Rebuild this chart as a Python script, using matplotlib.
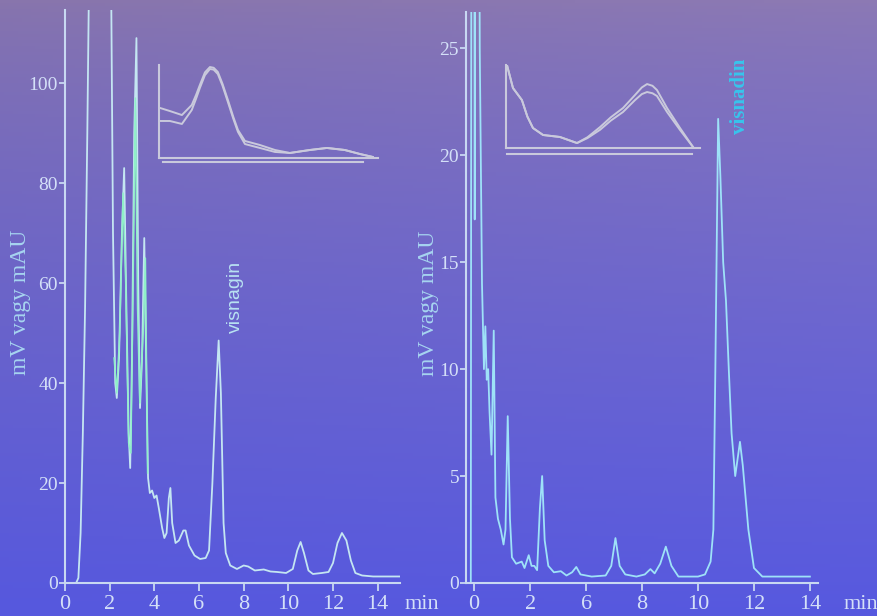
import numpy as np
import matplotlib
matplotlib.use("Agg")
import matplotlib.pyplot as plt

# --- bal oldali kromatogram (visnagin) ---
left_t = [0, 0.5, 0.6, 0.7, 0.8, 0.9, 1.0, 1.1, 1.3, 1.9, 2.05, 2.15, 2.25, 2.32, 2.42,
          2.55, 2.65, 2.75, 2.85, 2.92, 3.0, 3.1, 3.2, 3.28, 3.36, 3.45, 3.55, 3.65,
          3.72, 3.8, 3.9, 4.0, 4.1, 4.2, 4.35, 4.45, 4.55, 4.65, 4.72, 4.8, 4.95, 5.1,
          5.3, 5.4, 5.55, 5.8, 6.05, 6.3, 6.45, 6.6, 6.75, 6.88, 6.98, 7.1, 7.2, 7.4,
          7.7, 8.0, 8.2, 8.5, 8.9, 9.2, 9.5, 9.9, 10.2, 10.4, 10.55, 10.7, 10.9, 11.1,
          11.5, 11.8, 12.0, 12.2, 12.4, 12.6, 12.8, 13.0, 13.3, 13.8, 14.5, 15.0]
left_v = [0, 0, 1, 10, 30, 55, 90, 130, 300, 300, 130, 70, 40, 37, 45,
          70, 83, 55, 30, 23, 45, 90, 109, 60, 35, 45, 69, 40,
          21, 18, 18.5, 17, 17.5, 15, 11, 9, 10, 17, 19, 12, 8, 8.5,
          10.5, 10.5, 7.5, 5.5, 4.8, 5, 6.5, 20, 37, 48.5, 38, 12, 6, 3.5,
          2.8, 3.5, 3.3, 2.5, 2.7, 2.3, 2.2, 2.0, 2.8, 6.5, 8.2, 6, 2.5, 1.8,
          2.0, 2.2, 4, 8, 10, 8.5, 4.5, 2, 1.5, 1.3, 1.3, 1.3]
# masodik (zold) jel a korai szakaszon
left_t2 = [2.2, 2.32, 2.45, 2.6, 2.72, 2.85, 2.95, 3.05, 3.15, 3.25, 3.35, 3.5, 3.6, 3.7]
left_v2 = [45, 38, 50, 78, 60, 28, 26, 60, 97, 55, 36, 50, 65, 22]
left_xticks = [0, 2, 4, 6, 8, 10, 12, 14]
left_yticks = [0, 20, 40, 60, 80, 100]

# --- jobb oldali kromatogram (visnadin) ---
right_t = [-0.12, -0.08, -0.02, 0.02, 0.07, 0.12, 0.2, 0.28, 0.35, 0.4, 0.45, 0.5, 0.55,
           0.62, 0.7, 0.76, 0.85, 0.95, 1.05, 1.12, 1.2, 1.28, 1.35, 1.5, 1.7, 1.8,
           1.95, 2.05, 2.15, 2.25, 2.35, 2.43, 2.52, 2.65, 2.85, 3.1, 3.3, 3.5, 3.65,
           3.8, 4.2, 4.7, 4.9, 5.05, 5.2, 5.4, 5.8, 6.1, 6.3, 6.45, 6.65, 6.85, 7.05,
           7.3, 7.6, 8.0, 8.25, 8.45, 8.55, 8.62, 8.72, 8.8, 8.9, 9.0, 9.1, 9.2, 9.33,
           9.5, 9.6, 9.8, 10.0, 10.3, 11.0, 12.0]
right_v = [0, 60, 60, 17, 60, 60, 25, 14, 10, 12, 9.5, 10, 8,
           6, 11.8, 4, 3, 2.5, 1.8, 2.5, 7.8, 3, 1.2, 0.9, 1.0, 0.7,
           1.3, 0.8, 0.8, 0.6, 3.5, 5.0, 2, 0.8, 0.5, 0.55, 0.35, 0.5, 0.75,
           0.4, 0.3, 0.35, 0.8, 2.1, 0.8, 0.4, 0.3, 0.4, 0.65, 0.45, 0.9, 1.7, 0.8,
           0.3, 0.3, 0.3, 0.4, 1.0, 2.5, 10, 21.7, 19, 15, 13.2, 10, 7, 5.0,
           6.6, 5.5, 2.5, 0.7, 0.3, 0.3, 0.3]
right_xtick_pos = [0, 2, 4, 6, 8, 10, 12]
right_xtick_lab = ["0", "2", "6", "8", "10", "12", "14"]
right_yticks = [0, 5, 10, 15, 20, 25]

# --- UV spektrumok (beillesztett abrak) ---
ins1_x = [0.5, 5, 10.5, 15, 17, 18.7, 21, 23.3, 25, 26.9, 29, 31.5, 34, 36.1, 39.3,
          46.1, 53, 59.8, 68.9, 76.7, 84.9, 91.8, 97.7]
ins1_a = [53.8, 50.5, 46.2, 57, 68, 78.5, 92, 97.8, 97, 92.5, 80, 62.4, 44, 30.1, 18.3,
          14, 8.6, 5.4, 8.6, 10.8, 8.6, 4.3, 1.1]
ins1_b = [39.8, 39.8, 36.6, 51.6, 64, 75.3, 89, 95.7, 95, 90.3, 78, 60.2, 42, 28, 15,
          10.8, 6.5, 5.4, 8.6, 10.8, 8.6, 4.3, 1.1]
ins2_x = [0.5, 3.6, 8.2, 11, 13.9, 19.1, 27.8, 36.6, 42, 48.5, 54, 60.3, 66.5, 70,
          72.7, 75.5, 77.8, 83, 89.7, 96.4]
ins2_a = [100, 72.3, 57.8, 38, 24.1, 15.7, 13.3, 6, 13, 25.3, 37, 48.2, 63.9, 73,
          77.1, 75, 69.9, 48.2, 24.1, 1.2]
ins2_b = [100, 72.3, 57.8, 38, 24.1, 15.7, 13.3, 6, 12, 22, 33, 43.4, 57.8, 65,
          67.5, 66, 62.7, 43.4, 21.7, 1.2]

axis_col = "#c8d8f2"
tick_col = "#d4e0f8"
trace_col = "#c4e6f2"
green_col = "#8ff0c8"
right_col = "#9ee2f8"
spec_col = "#c9c9dc"
serif = "Liberation Serif"

fig = plt.figure(figsize=(8.78, 6.16), dpi=100)

# hatter szinatmenet
bg = fig.add_axes([0, 0, 1, 1])
ny, nx = 200, 200
s = np.linspace(0, 1, ny)[:, None]
h = np.linspace(0, 1, nx)[None, :]
top = np.array([136, 117, 172]) / 255
bot = np.array([86, 88, 222]) / 255
w = np.clip(s ** 0.75, 0, 1)
img = top[None, None, :] * (1 - w[..., None]) + bot[None, None, :] * w[..., None]
img = img + (0.03 * h * (1 - s) ** 0.5)[..., None] * np.array([0.6, 0.6, 1.0])
img = np.clip(img, 0, 1)
bg.imshow(img, aspect="auto", extent=[0, 1, 0, 1], origin="upper")
bg.set_axis_off()


def style_axes(ax):
    ax.set_facecolor("none")
    for sp in ["top", "right"]:
        ax.spines[sp].set_visible(False)
    for sp in ["left", "bottom"]:
        ax.spines[sp].set_color(axis_col)
        ax.spines[sp].set_linewidth(1.5)
    ax.tick_params(axis="both", colors=axis_col, width=1.3, length=4)
    ax.tick_params(axis="x", length=6, labelsize=16, labelcolor=tick_col, pad=3)
    ax.tick_params(axis="y", labelsize=14, labelcolor=tick_col, pad=1)
    for lab in ax.get_xticklabels() + ax.get_yticklabels():
        lab.set_fontfamily(serif)


# bal kromatogram
ax1 = fig.add_axes([0.074, 0.0536, 0.3816, 0.930])
ax1.plot(left_t, left_v, color=trace_col, lw=1.3)
ax1.plot(left_t2, left_v2, color=green_col, lw=1.1)
ax1.set_xlim(0, 15)
ax1.set_ylim(0, 114.6)
ax1.set_xticks(left_xticks)
ax1.set_yticks(left_yticks)
style_axes(ax1)
ax1.set_ylabel("mV vagy mAU", fontsize=17, color="#a6d4f0", family=serif)
ax1.yaxis.set_label_coords(-0.10, 0.49)
ax1.annotate("min", xy=(15.2, 0), xycoords="data", xytext=(0, -9), textcoords="offset points",
             fontsize=16, color=tick_col, family=serif, va="top", ha="left",
             annotation_clip=False)
ax1.text(7.65, 50, "visnagin", rotation=90, fontsize=14, color="#b8e2f2",
         family="Liberation Sans", va="bottom", ha="center")

# jobb kromatogram
ax2 = fig.add_axes([0.5308, 0.0536, 0.4009, 0.927])
ax2.plot(right_t, right_v, color=right_col, lw=1.3)
ax2.set_xlim(-0.29, 12.29)
ax2.set_ylim(0, 26.7)
ax2.set_xticks(right_xtick_pos)
ax2.set_xticklabels(right_xtick_lab)
ax2.set_yticks(right_yticks)
style_axes(ax2)
ax2.set_ylabel("mV vagy mAU", fontsize=17, color="#a6d4f0", family=serif)
ax2.yaxis.set_label_coords(-0.077, 0.49)
ax2.annotate("min", xy=(13.2, 0), xycoords="data", xytext=(0, -9), textcoords="offset points",
             fontsize=16, color=tick_col, family=serif, va="top", ha="left",
             annotation_clip=False)
ax2.text(9.5, 21.0, "visnadin", rotation=90, fontsize=15, color="#38c4ec",
         family=serif, weight="bold", va="bottom", ha="center")

# beillesztett spektrumok
for pos, xs, ya, yb, gap, xr in [
        ([0.181, 0.7435, 0.2494, 0.151], ins1_x, ins1_a, ins1_b, -4.3, (0.02, 0.93)),
        ([0.5763, 0.7597, 0.221, 0.1347], ins2_x, ins2_a, ins2_b, -7.2, (0.005, 0.96))]:
    ins = fig.add_axes(pos)
    ins.set_facecolor("none")
    ins.plot(xs, ya, color=spec_col, lw=1.4)
    ins.plot(xs, yb, color=spec_col, lw=1.4)
    ins.set_xlim(0, 100)
    ins.set_ylim(0, 100)
    ins.set_xticks([])
    ins.set_yticks([])
    for sp in ["top", "right"]:
        ins.spines[sp].set_visible(False)
    for sp in ["left", "bottom"]:
        ins.spines[sp].set_color(spec_col)
        ins.spines[sp].set_linewidth(1.5)
    ins.axhline(gap, xmin=xr[0], xmax=xr[1], color=spec_col, lw=1.5, clip_on=False)

fig.savefig("out.png", dpi=100)
